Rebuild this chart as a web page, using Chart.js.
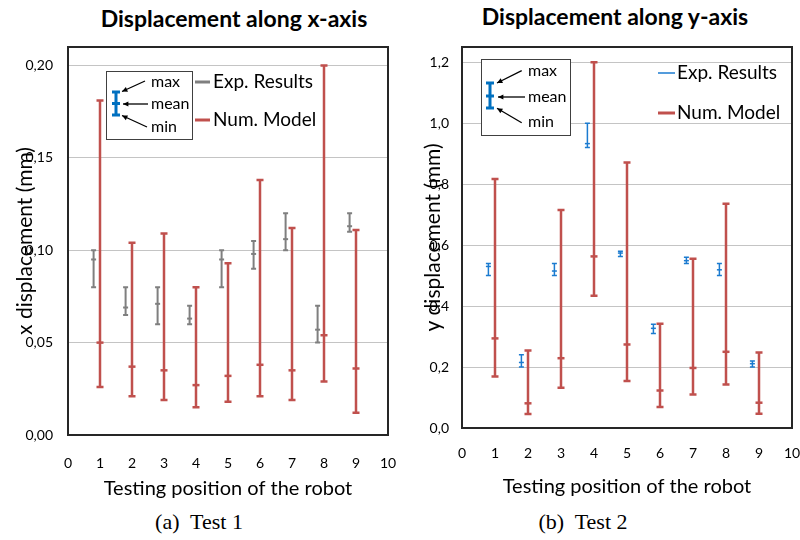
<!DOCTYPE html>
<html>
<head>
<meta charset="utf-8">
<script src="https://cdn.jsdelivr.net/npm/chart.js@4.4.0/dist/chart.umd.min.js"></script>
<style>
    body { margin: 0; width: 800px; height: 540px; background: #fff; position: relative; overflow: hidden; }
    canvas { position: absolute; top: 0; }
    .title { position: absolute; font: bold 23px Lato, sans-serif; line-height: 26px; color: #000; white-space: nowrap; transform: translateX(-50%); }
    .caption { position: absolute; font: 22px "Liberation Serif", serif; line-height: 24px; color: #000; white-space: nowrap; transform: translateX(-50%); }
</style>
</head>
<body>
<div class="title" style="left:234px; top:5px;">Displacement along x-axis</div>
<div class="title" style="left:615px; top:3px;">Displacement along y-axis</div>
<canvas id="chartTest1" width="400" height="505" style="left:0px;"></canvas>
<canvas id="chartTest2" width="400" height="505" style="left:400px;"></canvas>
<div class="caption" style="left:199px; top:510px;">(a)&nbsp; Test 1</div>
<div class="caption" style="left:583px; top:510px;">(b)&nbsp; Test 2</div>

<script>
// DATA
const positions = [1, 2, 3, 4, 5, 6, 7, 8, 9];
const expPositions = [0.8, 1.8, 2.8, 3.8, 4.8, 5.8, 6.8, 7.8, 8.8];

// Test 1 - x displacement (mm)
const xTickValues = [0, 0.05, 0.1, 0.15, 0.2];
const xTickLabels = ["0,00", "0,05", "0,10", "0,15", "0,20"];
const xExpMax = [0.100, 0.080, 0.080, 0.070, 0.100, 0.105, 0.120, 0.070, 0.120];
const xExpMean = [0.095, 0.069, 0.071, 0.063, 0.095, 0.098, 0.106, 0.057, 0.113];
const xExpMin = [0.080, 0.065, 0.060, 0.060, 0.080, 0.090, 0.100, 0.050, 0.110];
const xNumMax = [0.181, 0.104, 0.109, 0.080, 0.093, 0.138, 0.112, 0.200, 0.111];
const xNumMean = [0.050, 0.037, 0.035, 0.027, 0.032, 0.038, 0.035, 0.054, 0.036];
const xNumMin = [0.026, 0.021, 0.019, 0.015, 0.018, 0.021, 0.019, 0.029, 0.012];

// Test 2 - y displacement (mm)
const yTickValues = [0, 0.2, 0.4, 0.6, 0.8, 1.0, 1.2];
const yTickLabels = ["0,0", "0,2", "0,4", "0,6", "0,8", "1,0", "1,2"];
const yExpMax = [0.54, 0.24, 0.54, 1.00, 0.58, 0.34, 0.56, 0.54, 0.22];
const yExpMean = [0.53, 0.215, 0.515, 0.933, 0.574, 0.327, 0.549, 0.519, 0.211];
const yExpMin = [0.50, 0.20, 0.50, 0.92, 0.563, 0.31, 0.54, 0.50, 0.20];
const yNumMax = [0.817, 0.254, 0.715, 1.20, 0.871, 0.342, 0.555, 0.736, 0.248];
const yNumMean = [0.294, 0.081, 0.229, 0.563, 0.274, 0.123, 0.197, 0.250, 0.083];
const yNumMin = [0.169, 0.046, 0.132, 0.434, 0.154, 0.069, 0.110, 0.143, 0.047];

const GREY = "#7f7f7f";
const RED = "#c0504d";
const BLUE = "#1b7bd0";
const KEY_BLUE = "#0070c0";
const FONT = "Lato";

function points(xs, mean, min, max) {
    return xs.map((x, i) => ({ x: x, y: mean[i], min: min[i], max: max[i] }));
}

function errorSet(label, data, color, width, cap) {
    return {
        label: label,
        data: data,
        borderColor: color,
        backgroundColor: color,
        pointStyle: "line",
        pointRadius: cap,
        pointHoverRadius: cap,
        pointBorderWidth: width,
        barWidth: width,
        capHalf: cap,
    };
}

// vertical whiskers min..max with caps, through the y scale
const errorBars = {
    id: "errorBars",
    beforeDatasetsDraw(chart) {
        const ctx = chart.ctx;
        const yScale = chart.scales.y;
        chart.data.datasets.forEach((ds, i) => {
            const meta = chart.getDatasetMeta(i);
            ctx.save();
            ctx.strokeStyle = ds.borderColor;
            ctx.lineWidth = ds.barWidth;
            meta.data.forEach((pt, j) => {
                const raw = ds.data[j];
                const top = yScale.getPixelForValue(raw.max);
                const bottom = yScale.getPixelForValue(raw.min);
                ctx.beginPath();
                ctx.moveTo(pt.x, top);
                ctx.lineTo(pt.x, bottom);
                ctx.moveTo(pt.x - ds.capHalf, top);
                ctx.lineTo(pt.x + ds.capHalf, top);
                ctx.moveTo(pt.x - ds.capHalf, bottom);
                ctx.lineTo(pt.x + ds.capHalf, bottom);
                ctx.stroke();
            });
            ctx.restore();
        });
    },
};

// dark frame round the plot area
const frame = {
    id: "frame",
    afterDraw(chart) {
        const ca = chart.chartArea;
        const ctx = chart.ctx;
        ctx.save();
        ctx.strokeStyle = "#262626";
        ctx.lineWidth = 2;
        ctx.strokeRect(ca.left, ca.top, ca.right - ca.left, ca.bottom - ca.top);
        ctx.restore();
    },
};

function arrow(ctx, x1, y1, x2, y2) {
    const a = Math.atan2(y2 - y1, x2 - x1);
    ctx.beginPath();
    ctx.moveTo(x1, y1);
    ctx.lineTo(x2, y2);
    ctx.stroke();
    ctx.beginPath();
    ctx.moveTo(x2, y2);
    ctx.lineTo(x2 - 6 * Math.cos(a - 0.45), y2 - 6 * Math.sin(a - 0.45));
    ctx.lineTo(x2 - 6 * Math.cos(a + 0.45), y2 - 6 * Math.sin(a + 0.45));
    ctx.closePath();
    ctx.fill();
}

// key box (max / mean / min) and the two series entries
const keyBox = {
    id: "keyBox",
    afterDraw(chart, args, o) {
        const ctx = chart.ctx;
        ctx.save();
        ctx.fillStyle = "#fff";
        ctx.fillRect(o.box[0], o.box[1], o.box[2], o.box[3]);
        ctx.strokeStyle = "#404040";
        ctx.lineWidth = 1;
        ctx.strokeRect(o.box[0] + 0.5, o.box[1] + 0.5, o.box[2], o.box[3]);

        ctx.strokeStyle = KEY_BLUE;
        ctx.lineWidth = 3;
        ctx.beginPath();
        ctx.moveTo(o.sym.x, o.sym.top);
        ctx.lineTo(o.sym.x, o.sym.bottom);
        [o.sym.top, o.sym.mean, o.sym.bottom].forEach((y) => {
            ctx.moveTo(o.sym.x - 4, y);
            ctx.lineTo(o.sym.x + 4, y);
        });
        ctx.stroke();

        ctx.strokeStyle = "#000";
        ctx.fillStyle = "#000";
        ctx.lineWidth = 1.3;
        o.arrows.forEach((a) => arrow(ctx, a[0], a[1], a[2], a[3]));

        ctx.font = "16px " + FONT;
        ctx.textBaseline = "middle";
        ctx.textAlign = "left";
        ["max", "mean", "min"].forEach((t, i) => ctx.fillText(t, o.textX, o.textY[i]));

        ctx.font = "19px " + FONT;
        chart.data.datasets.forEach((ds, i) => {
            ctx.strokeStyle = ds.borderColor;
            ctx.lineWidth = o.entryWidth[i];
            ctx.beginPath();
            ctx.moveTo(o.entryX[0], o.entryY[i]);
            ctx.lineTo(o.entryX[1], o.entryY[i]);
            ctx.stroke();
            ctx.fillStyle = "#000";
            ctx.fillText(ds.label, o.entryX[2], o.entryY[i]);
        });
        ctx.restore();
    },
};

function buildOptions(cfg) {
    return {
        responsive: false,
        animation: false,
        layout: { padding: { left: 0, right: cfg.padRight, top: 47, bottom: 0 } },
        plugins: {
            legend: { display: false },
            title: { display: false },
            tooltip: { enabled: false },
            keyBox: cfg.key,
        },
        scales: {
            x: {
                type: "linear",
                min: 0,
                max: 10,
                grid: { display: false },
                border: { display: false },
                ticks: { stepSize: 1, padding: cfg.xTickPad, color: "#000", font: { family: FONT, size: 14 } },
                title: {
                    display: true,
                    text: "Testing position of the robot",
                    color: "#000",
                    font: { family: FONT, size: 20 },
                    padding: { top: 0, bottom: cfg.xTitlePad },
                },
                afterFit: (s) => {
                    s.height = cfg.xHeight;
                    s.paddingLeft = 0;
                    s.paddingRight = 0;
                },
            },
            y: {
                type: "linear",
                min: 0,
                max: cfg.yMax,
                grid: { color: "#c4c4c4", drawTicks: false },
                border: { display: false },
                afterBuildTicks: (s) => { s.ticks = cfg.tickValues.map((v) => ({ value: v })); },
                ticks: {
                    padding: cfg.yTickPad,
                    color: "#000",
                    font: { family: FONT, size: 14 },
                    callback: (v, i) => cfg.tickLabels[i],
                },
                title: {
                    display: true,
                    text: cfg.yTitle,
                    color: "#000",
                    font: { family: FONT, size: 21 },
                    padding: { top: cfg.yTitlePad, bottom: 0 },
                },
                afterFit: (s) => { s.width = cfg.yWidth; },
            },
        },
    };
}

// CHART TEST 1
new Chart(document.getElementById("chartTest1"), {
    type: "scatter",
    data: {
        datasets: [
            errorSet("Exp. Results", points(expPositions, xExpMean, xExpMin, xExpMax), GREY, 2, 2.5),
            errorSet("Num. Model", points(positions, xNumMean, xNumMin, xNumMax), RED, 2.5, 3.5),
        ],
    },
    options: buildOptions({
        padRight: 12,
        yMax: 0.21,
        tickValues: xTickValues,
        tickLabels: xTickLabels,
        yTitle: "x displacement (mm)",
        yWidth: 68,
        yTickPad: 15,
        yTitlePad: 13,
        xHeight: 70,
        xTickPad: 12,
        xTitlePad: 4,
        key: {
            box: [106, 71, 86, 68],
            sym: { x: 116, top: 92, mean: 103.5, bottom: 115 },
            arrows: [[145, 81, 122, 91.5], [148, 104, 123, 104], [147, 127, 122, 115.5]],
            textX: 151,
            textY: [82, 104, 127],
            entryX: [195, 210, 213],
            entryY: [82, 120],
            entryWidth: [3, 3],
        },
    }),
    plugins: [errorBars, frame, keyBox],
});

// CHART TEST 2
new Chart(document.getElementById("chartTest2"), {
    type: "scatter",
    data: {
        datasets: [
            errorSet("Exp. Results", points(expPositions, yExpMean, yExpMin, yExpMax), BLUE, 1.5, 2.5),
            errorSet("Num. Model", points(positions, yNumMean, yNumMin, yNumMax), RED, 2.5, 3.5),
        ],
    },
    options: buildOptions({
        padRight: 8,
        yMax: 1.25,
        tickValues: yTickValues,
        tickLabels: yTickLabels,
        yTitle: "y displacement (mm)",
        yWidth: 62,
        yTickPad: 13,
        yTitlePad: 21,
        xHeight: 77,
        xTickPad: 9,
        xTitlePad: 6,
        key: {
            box: [81, 59, 89, 76],
            sym: { x: 90, top: 83, mean: 96, bottom: 108 },
            arrows: [[121.7, 70.7, 97, 83], [125, 97, 98, 97], [121.7, 122.7, 97, 108.3]],
            textX: 128,
            textY: [71, 97, 122],
            entryX: [258, 275, 277],
            entryY: [73, 113],
            entryWidth: [1.5, 3],
        },
    }),
    plugins: [errorBars, frame, keyBox],
});
</script>
</body>
</html>
